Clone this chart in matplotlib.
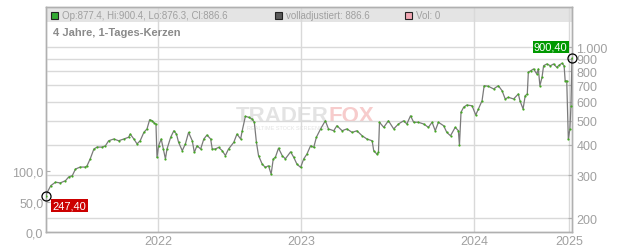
import matplotlib

matplotlib.use("Agg")
import matplotlib.pyplot as plt
from matplotlib.patches import Rectangle

plt.rcParams["font.family"] = ["Liberation Sans", "DejaVu Sans"]

# trading-day index and daily price
days = [0, 10, 19, 28, 38, 44, 51, 57, 66, 76, 79, 85, 92, 98, 108, 114, 120, 130, 139, 149,
        158, 161, 168, 174, 180, 187, 193, 198, 203, 207, 210, 212, 215, 220, 224, 228, 231,
        238, 244, 249, 253, 260, 266, 272, 279, 283, 288, 295, 301, 307, 314, 317, 323, 329,
        336, 342, 348, 358, 364, 371, 374, 380, 386, 393, 397, 401, 405, 412, 418, 424, 429,
        433, 437, 443, 450, 456, 466, 472, 478, 485, 491, 497, 504, 510, 515, 523, 532, 538,
        548, 554, 564, 573, 583, 592, 602, 611, 621, 624, 630, 633, 635, 643, 652, 662, 671,
        681, 687, 694, 700, 709, 719, 728, 735, 741, 747, 757, 763, 770, 779, 785, 787, 790,
        795, 801, 811, 818, 823, 830, 834, 842, 852, 861, 868, 874, 880, 890, 899, 902, 908,
        912, 916, 918, 923, 928, 934, 937, 940, 944, 947, 953, 960, 966, 972, 977, 982, 986,
        988, 991, 994, 997, 999, 1001]
prices = [247.4, 272, 281, 279, 285, 295, 299, 318, 324, 324, 328, 350, 384, 391, 391, 396,
          415, 422, 415, 422, 429, 442, 422, 403, 415, 449, 464, 506, 501, 490, 486, 355, 396,
          422, 384, 350, 384, 429, 456, 442, 409, 378, 403, 449, 415, 372, 396, 384, 422, 438,
          422, 384, 384, 390, 378, 361, 384, 409, 442, 422, 456, 522, 518, 509, 494, 409, 361,
          333, 323, 328, 303, 350, 355, 387, 361, 350, 374, 355, 333, 323, 350, 366, 396, 390,
          429, 464, 501, 464, 456, 478, 456, 464, 449, 456, 435, 422, 415, 378, 366, 372, 494,
          471, 501, 464, 486, 501, 486, 525, 494, 494, 486, 471, 494, 456, 494, 478, 449, 435,
          471, 456, 398, 543, 569, 581, 577, 529, 560, 605, 697, 693, 676, 697, 665, 615, 625,
          615, 645, 605, 560, 634, 645, 791, 803, 816, 778, 816, 697, 754, 841, 855, 841, 855,
          829, 847, 861, 841, 730, 730, 422, 464, 577, 900.4]

year_ticks = [214, 486, 815, 995]
year_labels = ["2022", "2023", "2024", "2025"]
price_ticks = [200, 300, 400, 500, 600, 700, 800, 900, 1000]
price_labels = ["200", "300", "400", "500", "600", "700", "800", "900", "1.000"]
vol_ticks = [0, 50, 100]
vol_labels = ["0,0", "50,0", "100,0"]

legend_ohlc = "Op:877.4, Hi:900.4, Lo:876.3, Cl:886.6"
legend_adj = "volladjustiert: 886.6"
legend_vol = "Vol: 0"
title = "4 Jahre, 1-Tages-Kerzen"

W, H = 632, 253
GRID = "#d9d9d9"
SPINE = "#b0b0b0"
TXT = "#a0a0a0"


def fx(px):
    return px / W


def fy(py):
    return 1 - py / H


fig = plt.figure(figsize=(W / 100, H / 100), dpi=100)
ax = fig.add_axes([fx(45.5), fy(233), (572 - 45.5) / W, 225 / H])
ax2 = ax.twinx()

# left (volume) axis
ax.set_xlim(0, 1001)
ax.set_ylim(0, 370.7)
ax.set_yticks(vol_ticks)
ax.set_yticklabels(vol_labels)
ax.set_xticks(year_ticks)
ax.set_xticklabels(year_labels)
ax.grid(axis="x", color=GRID, lw=1)
ax.tick_params(axis="y", direction="in", length=3, pad=1.6, colors=SPINE, labelcolor=TXT,
               labelsize=9)
ax.tick_params(axis="x", direction="in", length=0, pad=2.5, labelcolor=TXT, labelsize=9)

# price axis (log)
ax2.set_yscale("log")
ax2.set_ylim(175.8, 1462)
ax2.set_yticks(price_ticks)
ax2.set_yticklabels(price_labels)
ax2.minorticks_off()
ax2.grid(axis="y", color=GRID, lw=1)
ax2.tick_params(axis="y", direction="in", length=3, pad=3.2, colors=SPINE, labelcolor=TXT,
                labelsize=9)

for a in (ax, ax2):
    for s in a.spines.values():
        s.set_color(SPINE)
        s.set_linewidth(1)

# header band
ax.add_patch(Rectangle((0, (233 - 22.7) / 225), 1, 1, transform=ax.transAxes,
                       facecolor="#e4e4e4", edgecolor="none", zorder=1))

# watermark: TRADER in grey, FOX in pink, right next to each other
wm1 = ax.text(fx(236), fy(116), "TRADER", transform=fig.transFigure, fontsize=16,
              weight="bold", color="#e3e3e3", ha="left", va="center", zorder=1)
fig.canvas.draw()
x_end = wm1.get_window_extent().x1
ax.text(x_end / W, fy(116), "FOX", transform=fig.transFigure, fontsize=16, weight="bold",
        color="#f7cccc", ha="left", va="center", zorder=1)
ax.text(fx(247), fy(129), "REALTIME STOCK SCREENER", transform=fig.transFigure, fontsize=4,
        color="#e3e3e3", ha="left", va="center", zorder=1)

# price line: grey line with green specks
ax2.plot(days, prices, color="#7a7a7a", lw=0.9, zorder=3)
ax2.plot(days, prices, ls="none", marker="o", ms=1.6, mew=0, color="#44aa22", zorder=4)
ax2.plot([days[0], days[-1]], [prices[0], prices[-1]], ls="none", marker="o", ms=6.5,
         mfc="none", mec="black", mew=0.9, zorder=5, clip_on=False)

# first / last value labels
fig.text(fx(52.5), fy(206.7), f"{prices[0]:.2f}".replace(".", ","), ha="left", va="center",
         color="white", fontsize=8,
         bbox=dict(boxstyle="square,pad=0.12", fc="#cc0000", ec="none"))
fig.text(fx(567.5), fy(48), f"{prices[-1]:.2f}".replace(".", ","), ha="right", va="center",
         color="white", fontsize=8,
         bbox=dict(boxstyle="square,pad=0.12", fc="#009900", ec="none"))

# legend in header
for x0, fc, label, tx in [(50.5, "#33aa33", legend_ohlc, 62),
                          (274.5, "#5a5a5a", legend_adj, 286),
                          (405, "#f2a7b3", legend_vol, 416.5)]:
    fig.patches.append(Rectangle((fx(x0), fy(19.5)), 7 / W, 7 / H, transform=fig.transFigure,
                                 facecolor=fc, edgecolor="#222222", lw=0.8))
    fig.text(fx(tx), fy(15.8), label, ha="left", va="center", color=TXT, fontsize=7)

fig.text(fx(53), fy(33.5), title, ha="left", va="center", color="#8a8a8a", fontsize=8,
         weight="bold")

fig.savefig("out.png", dpi=100)
